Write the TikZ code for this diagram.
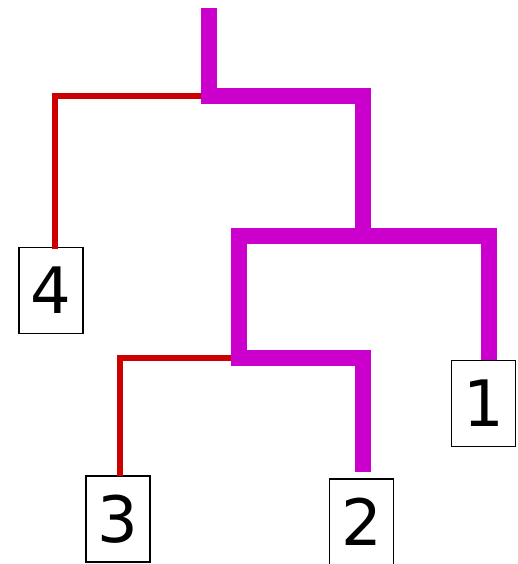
\documentclass[tikz,border=0pt]{standalone}
\usepackage{fontspec}
\setmainfont{DejaVu Sans}
\usepackage{tikz}
\usetikzlibrary{positioning,calc}
\usepackage{xcolor}
\definecolor{cMain}{RGB}{204,0,204}
\definecolor{cSide}{RGB}{204,0,0}
\tikzset{
  leaf/.style={draw=black,line width=1.5pt,minimum width=64pt,minimum height=86pt,
    inner sep=0pt,font=\fontsize{64}{64}\selectfont},
  trunk/.style={draw=cMain,line width=16pt},
  twig/.style={draw=cSide,line width=6pt},
}

\begin{document}
\begin{tikzpicture}[x=1pt,y=-1pt]
  \useasboundingbox (0,0) rectangle (518,564);
  % leaves
  \node[leaf] (n4) at (51,290.5) {4};
  \node[leaf] (n1) at (483.5,403.5) {1};
  \node[leaf] (n3) at (118,519) {3};
  \node[leaf] (n2) at (361.5,522) {2};
  % junctions
  \coordinate (top) at (208.5,8);
  \coordinate (ja) at (208.5,96);
  \coordinate (jb) at (363,236);
  \coordinate (jc) at (239,358);

  % thin side branches
  \draw[twig] (ja) -| ([xshift=3.5pt,yshift=-2pt]n4.north);
  \draw[twig] (jc) -| ([xshift=1.5pt,yshift=-1pt]n3.north);

  % thick main path
  \draw[trunk] (top) -- (ja) -| (jb);
  \draw[trunk,shorten <=6pt] ([xshift=1.5pt]n2.north) |- (jc) |- (jb) -| ([xshift=5.5pt]n1.north);
\end{tikzpicture}
\end{document}
